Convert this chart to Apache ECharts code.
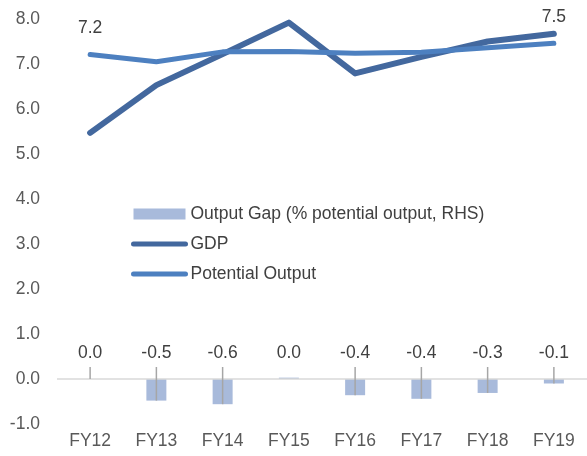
<!DOCTYPE html>
<html>
<head>
<meta charset="utf-8">
<script src="https://cdn.jsdelivr.net/npm/echarts@6/dist/echarts.min.js"></script>
<style>
  html, body { margin: 0; padding: 0; background: #ffffff; }
  #chart { width: 587px; height: 456px; }
</style>
</head>
<body>
<div id="chart"></div>
<script>
// Fiscal years on the category axis
const categories = ['FY12', 'FY13', 'FY14', 'FY15', 'FY16', 'FY17', 'FY18', 'FY19'];
// Output gap, % of potential output
const outputGap = [0, -0.48, -0.56, 0.03, -0.36, -0.44, -0.31, -0.1];
// Real GDP growth, %
const gdp = [5.47, 6.53, 7.22, 7.92, 6.79, 7.16, 7.5, 7.67];
// Potential output growth, %
const potentialOutput = [7.21, 7.05, 7.27, 7.28, 7.24, 7.26, 7.36, 7.46];
// Value axis range and step
const yMin = -1, yMax = 8, yStep = 1;

const FONT = '"Liberation Sans", Arial, sans-serif';
const FS = 17.5;

function fmt(v) {
  const s = Number(v).toFixed(1);
  return s === '-0.0' ? '0.0' : s;
}

const chart = echarts.init(document.getElementById('chart'), null, { renderer: 'canvas' });

// Only the first and last potential-output points carry a value label
const potentialData = potentialOutput.map((v, i) =>
  (i === 0 || i === potentialOutput.length - 1)
    ? { value: v, label: { show: true } }
    : v
);

chart.setOption({
  animation: false,
  backgroundColor: '#ffffff',
  textStyle: { fontFamily: FONT },
  grid: { left: 57, right: -4, top: 19, bottom: 32 },
  legend: {
    orient: 'vertical',
    left: 131,
    top: 205,
    padding: 0,
    itemWidth: 52,
    itemHeight: 11,
    itemGap: 12,
    textStyle: { color: '#404040', fontSize: FS, fontFamily: FONT },
    data: [
      { name: 'Output Gap (% potential output, RHS)', icon: 'rect' },
      { name: 'GDP', itemStyle: { opacity: 0 }, lineStyle: { width: 5, cap: 'round' } },
      { name: 'Potential Output', itemStyle: { opacity: 0 }, lineStyle: { width: 5, cap: 'round' } }
    ]
  },
  xAxis: {
    type: 'category',
    data: categories,
    axisLine: { show: false, onZero: false },
    axisTick: { show: false },
    axisLabel: { color: '#595959', fontSize: FS, fontFamily: FONT, margin: 8 }
  },
  yAxis: {
    type: 'value',
    min: yMin,
    max: yMax,
    interval: yStep,
    axisLine: { show: false },
    axisTick: { show: false },
    splitLine: { show: false },
    axisLabel: { color: '#595959', fontSize: FS, fontFamily: FONT, margin: 17, formatter: v => fmt(v) }
  },
  series: [
    {
      name: 'Output Gap (% potential output, RHS)',
      type: 'bar',
      data: outputGap,
      barWidth: 20,
      itemStyle: { color: '#A8BADB' },
      z: 2,
      markLine: {
        silent: true,
        symbol: 'none',
        label: { show: false },
        lineStyle: { color: '#D9D9D9', width: 1.5, type: 'solid' },
        data: [{ yAxis: 0 }]
      }
    },
    {
      name: 'GDP',
      type: 'line',
      data: gdp,
      symbol: 'none',
      lineStyle: { color: '#43689E', width: 6, cap: 'round', join: 'round' },
      itemStyle: { color: '#43689E' },
      z: 4
    },
    {
      name: 'Potential Output',
      type: 'line',
      data: potentialData,
      symbol: 'circle',
      symbolSize: 0,
      showSymbol: true,
      showAllSymbol: true,
      lineStyle: { color: '#4D80C0', width: 5, cap: 'round', join: 'round' },
      itemStyle: { color: '#4D80C0' },
      label: {
        show: false,
        position: 'top',
        distance: 17,
        color: '#404040',
        fontSize: FS,
        fontFamily: FONT,
        formatter: p => fmt(p.value)
      },
      z: 5
    },
    {
      // Output-gap value labels, lifted above the zero line with leader lines to the bar ends
      name: 'gapLabels',
      type: 'custom',
      silent: true,
      z: 6,
      data: outputGap.map((v, i) => [i, v]),
      renderItem: function (params, api) {
        const i = api.value(0);
        const v = api.value(1);
        const base = api.coord([i, 0]);
        const end = api.coord([i, v]);
        const labelY = base[1] - 26;
        const children = [{
          type: 'text',
          style: {
            text: fmt(v),
            x: base[0],
            y: labelY,
            align: 'center',
            verticalAlign: 'middle',
            fill: '#404040',
            fontSize: FS,
            fontFamily: FONT
          }
        }];
        if (v <= 0) {
          children.push({
            type: 'line',
            shape: { x1: base[0], y1: labelY + 14, x2: end[0], y2: end[1] },
            style: { stroke: '#A6A6A6', lineWidth: 1.5 }
          });
        }
        return { type: 'group', children: children };
      }
    }
  ]
});
</script>
</body>
</html>
